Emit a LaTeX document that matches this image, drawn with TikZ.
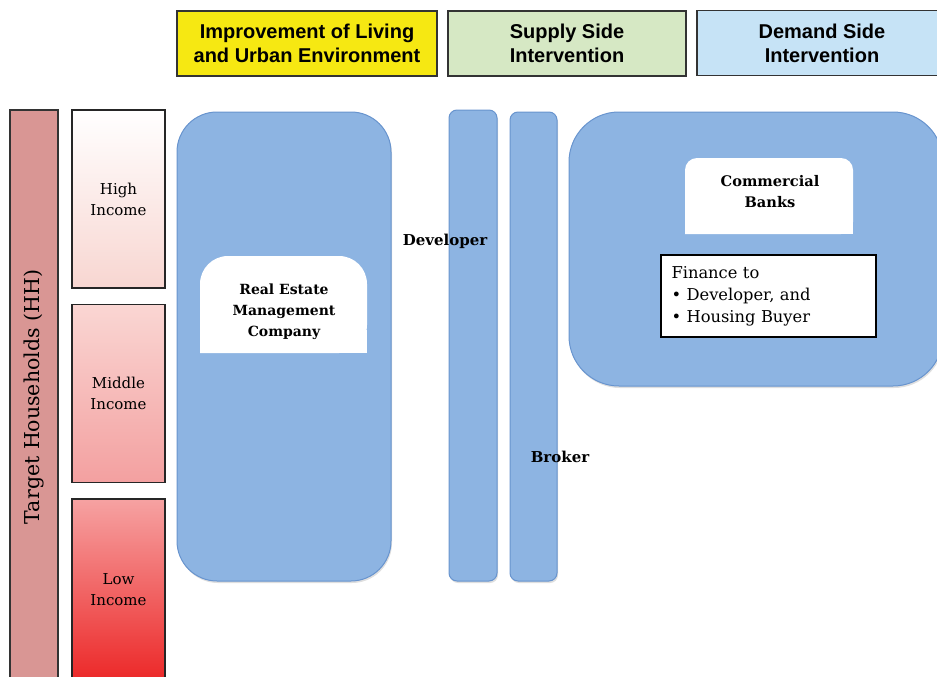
\documentclass[tikz,border=0pt]{standalone}
\usepackage{fontspec}
\setmainfont{DejaVu Serif}
\newfontfamily\hdrfont{Liberation Sans}
\usetikzlibrary{shadows}
\definecolor{hyellow}{RGB}{246,232,18}
\definecolor{hgreen}{RGB}{214,232,196}
\definecolor{hblue}{RGB}{198,227,246}
\definecolor{tgtred}{RGB}{217,150,148}
\definecolor{boxblue}{RGB}{141,180,226}
\definecolor{boxline}{RGB}{104,148,206}
\definecolor{hiBot}{RGB}{248,214,209}
\definecolor{midTop}{RGB}{250,214,211}
\definecolor{midBot}{RGB}{243,160,160}
\definecolor{lowTop}{RGB}{246,162,162}
\definecolor{lowBot}{RGB}{236,40,40}
\tikzset{
  hdr/.style={draw=black!80, line width=1.3pt, align=center, inner sep=0pt,
    minimum height=65pt, font=\hdrfont\bfseries\fontsize{20}{24}\selectfont},
  incbox/.style={draw=black!85, line width=1.2pt, align=center, inner sep=0pt,
    minimum width=93pt, minimum height=178pt, font=\fontsize{15}{21}\selectfont},
  bluebox/.style={draw=boxline, fill=boxblue, line width=1pt,
    drop shadow={opacity=0.25, shadow xshift=1pt, shadow yshift=-2pt}},
  lbl/.style={align=center, inner sep=0pt, font=\bfseries\fontsize{15}{21}\selectfont},
}
\begin{document}
\begin{tikzpicture}[x=1pt,y=-1pt]
\useasboundingbox (0,0) rectangle (937,677);
% headers
\node[hdr, fill=hyellow, minimum width=260pt] (h1) at (307,43.5) {Improvement of Living\\and Urban Environment};
\node[hdr, fill=hgreen, minimum width=238pt] (h2) at (567,43.5) {Supply Side\\Intervention};
\node[hdr, fill=hblue, minimum width=250pt] (h3) at (822,43) {Demand Side\\Intervention};
% target households
\node[draw=black!80, line width=1.2pt, fill=tgtred, rotate=90, minimum width=574pt, minimum height=48pt,
  inner sep=0pt, font=\fontsize{20.5}{24}\selectfont] (tgt) at (34,397) {Target Households (HH)};
% income boxes
\node[incbox, top color=white, bottom color=hiBot] (hi) at (118.5,199) {High\\Income};
\node[incbox, top color=midTop, bottom color=midBot] (mid) at (118.5,393.5) {Middle\\Income};
\node[incbox, top color=lowTop, bottom color=lowBot, minimum height=182pt] (low) at (118.5,590) {Low\\Income};
% real estate block
\node[bluebox, rounded corners=40pt, minimum width=214pt, minimum height=469pt] (re) at (284,346.5) {};
\fill[white, rounded corners=28pt] (200,353) -- (200,256) -- (367,256) -- (367,353) [sharp corners] -- cycle;
\fill[white] (200,330) rectangle (367,353);
\node[lbl, font=\bfseries\fontsize{14}{21}\selectfont] (rem) at (284,312) {Real Estate\\Management\\Company};
% developer and broker bars
\node[bluebox, rounded corners=8pt, minimum width=48pt, minimum height=471pt] (dev) at (473,345.5) {};
\node[bluebox, rounded corners=8pt, minimum width=47pt, minimum height=469pt] (brk) at (533.5,346.5) {};
\node[lbl] (devl) at (445,241) {Developer};
\node[lbl] (brkl) at (560,457) {Broker};
% demand block
\node[bluebox, rounded corners=50pt, minimum width=374pt, minimum height=274pt] (dem) at (756,249) {};
\fill[white, rounded corners=12pt] (685,234) -- (685,158) -- (853,158) -- (853,234) [sharp corners] -- cycle;
\fill[white] (685,220) rectangle (853,234);
\node[lbl, font=\bfseries\fontsize{14.6}{21}\selectfont] (cb) at (770,192) {Commercial\\Banks};
\node[draw=black, line width=1.2pt, fill=white, minimum width=215pt, minimum height=82pt,
  text width=194pt, align=left, inner sep=0pt, font=\fontsize{16.3}{22}\selectfont] (fin) at (768.5,296)
  {Finance to\\\textbullet\ Developer, and\\\textbullet\ Housing Buyer};
\end{tikzpicture}
\end{document}
